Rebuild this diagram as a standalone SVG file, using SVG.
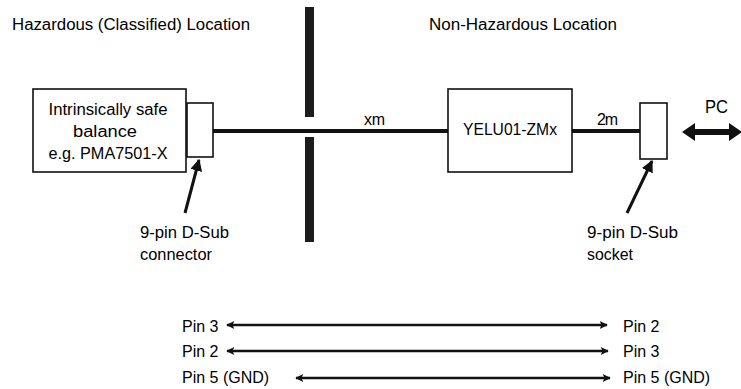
<svg xmlns="http://www.w3.org/2000/svg" width="741" height="389" viewBox="0 0 741 389">
<style>
text{font-family:"Liberation Sans",Arial,sans-serif;fill:#000;}
.t{font-size:16px;}
.b{font-size:16px;}
.p{font-size:16px;}
.box{fill:#fff;stroke:#111;stroke-width:1.6;}
.cable{stroke:#111;stroke-width:4;fill:none;}
.ptr{stroke:#111;stroke-width:3;fill:none;}
.pin{stroke:#111;stroke-width:2.5;fill:none;}
</style>
<defs>
<marker id="ah" viewBox="0 0 10 10" refX="9" refY="5" markerWidth="4" markerHeight="4" orient="auto-start-reverse" markerUnits="strokeWidth">
<path d="M0,0 L10,5 L0,10 Z" fill="#111"/>
</marker>
<marker id="ph" viewBox="0 0 10 10" refX="9" refY="5" markerWidth="4" markerHeight="3.2" orient="auto-start-reverse" markerUnits="strokeWidth">
<path d="M0,0 L10,5 L0,10 L2,5 Z" fill="#111"/>
</marker>
</defs>
<rect width="741" height="389" fill="#fff"/>
<g id="title-hazardous"><text class="t" x="12" y="30" textLength="238" lengthAdjust="spacingAndGlyphs">Hazardous (Classified) Location</text></g>
<g id="title-nonhazardous"><text class="t" x="429" y="30" textLength="188" lengthAdjust="spacingAndGlyphs">Non-Hazardous Location</text></g>
<g id="barrier">
<rect x="305" y="7" width="9" height="110" fill="#1c1c1c"/>
<rect x="305" y="137" width="9" height="105" fill="#1c1c1c"/>
</g>
<g id="connectors">
<line class="cable" x1="213" y1="131" x2="448" y2="131"/>
<line class="cable" x1="572" y1="131" x2="640" y2="131"/>
<line class="ptr" x1="185" y1="213" x2="199" y2="160" marker-end="url(#ah)"/>
<line class="ptr" x1="627" y1="213" x2="652" y2="161" marker-end="url(#ah)"/>
<polygon points="682,132 695,123 695,129 729,129 729,123 742,132 729,141 729,135 695,135 695,141" fill="#111"/>
<line class="pin" x1="227" y1="325" x2="607" y2="325" marker-start="url(#ph)" marker-end="url(#ph)"/>
<line class="pin" x1="227" y1="351" x2="608" y2="351" marker-start="url(#ph)" marker-end="url(#ph)"/>
<line class="pin" x1="296" y1="378" x2="610" y2="378" marker-start="url(#ph)" marker-end="url(#ph)"/>
</g>
<g id="balance">
<rect class="box" x="33" y="89" width="153" height="83"/>
<text class="b" x="108" y="115" text-anchor="middle" textLength="119" lengthAdjust="spacingAndGlyphs">Intrinsically safe</text>
<text class="b" x="105" y="137" text-anchor="middle" textLength="64" lengthAdjust="spacingAndGlyphs">balance</text>
<text class="b" x="108" y="159" text-anchor="middle" textLength="119" lengthAdjust="spacingAndGlyphs">e.g. PMA7501-X</text>
</g>
<g id="dsub-connector"><rect class="box" x="187" y="103" width="26" height="54"/></g>
<g id="label-xm"><text class="b" x="364" y="125" textLength="21">xm</text></g>
<g id="yelu">
<rect class="box" x="448" y="89" width="124" height="83"/>
<text x="510" y="135" font-size="16.5" text-anchor="middle" textLength="94" lengthAdjust="spacingAndGlyphs">YELU01-ZMx</text>
</g>
<g id="label-2m"><text class="b" x="597" y="125" textLength="21">2m</text></g>
<g id="dsub-socket"><rect class="box" x="640" y="103" width="27" height="56"/></g>
<g id="pc"><text x="705" y="113" font-size="19" textLength="23" lengthAdjust="spacingAndGlyphs">PC</text></g>
<g id="label-connector">
<text class="b" x="140" y="238" textLength="89" lengthAdjust="spacingAndGlyphs">9-pin D-Sub</text>
<text class="b" x="140" y="260" textLength="72" lengthAdjust="spacingAndGlyphs">connector</text>
</g>
<g id="label-socket">
<text class="b" x="587" y="238" textLength="91" lengthAdjust="spacingAndGlyphs">9-pin D-Sub</text>
<text class="b" x="587" y="260" textLength="46" lengthAdjust="spacingAndGlyphs">socket</text>
</g>
<g id="pins-left">
<text class="p" x="182" y="332">Pin 3</text>
<text class="p" x="182" y="357">Pin 2</text>
<text class="p" x="182" y="383">Pin 5 (GND)</text>
</g>
<g id="pins-right">
<text class="p" x="623" y="332">Pin 2</text>
<text class="p" x="623" y="357">Pin 3</text>
<text class="p" x="623" y="383">Pin 5 (GND)</text>
</g>
</svg>
